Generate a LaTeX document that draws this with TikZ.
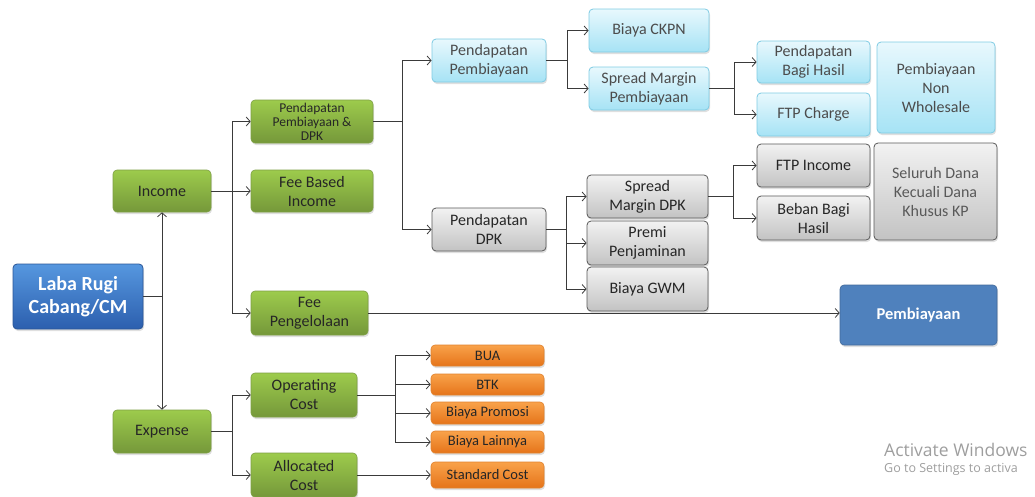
\documentclass[tikz,border=0pt]{standalone}
\usepackage{fontspec}
\setmainfont{Carlito}
\newfontfamily\wmfont{Open Sans}
\usetikzlibrary{arrows.meta,shadows}
\definecolor{gtop}{HTML}{9DCB4C}
\definecolor{gbot}{HTML}{75983A}
\definecolor{gbrd}{HTML}{7E9F45}
\definecolor{btop}{HTML}{E8F8FD}
\definecolor{bbot}{HTML}{A6E3F5}
\definecolor{bbrd}{HTML}{7FCBE3}
\definecolor{ytop}{HTML}{F2F2F2}
\definecolor{ybot}{HTML}{C3C3C3}
\definecolor{ybrd}{HTML}{595959}
\definecolor{otop}{HTML}{F9A24A}
\definecolor{obot}{HTML}{E5741A}
\definecolor{obrd}{HTML}{E0822E}
\definecolor{ltop}{HTML}{5697DF}
\definecolor{lbot}{HTML}{2C5FAE}
\definecolor{lbrd}{HTML}{2B5697}
\definecolor{pemb}{HTML}{4F81BD}
\definecolor{pbrd}{HTML}{41699A}
\definecolor{txt}{HTML}{262626}
\definecolor{ln}{HTML}{3A3A3A}
\tikzset{
  base/.style={rounded corners=4pt, align=center, inner sep=1pt, text=txt,
    font=\fontsize{16}{19}\selectfont,
    drop shadow={opacity=0.25, shadow xshift=1pt, shadow yshift=-2pt}},
  gbox/.style={base, top color=gtop, bottom color=gbot, draw=gbrd, line width=0.6pt},
  bbox/.style={base, top color=btop, bottom color=bbot, draw=bbrd, line width=0.8pt, text=black!70},
  ybox/.style={base, top color=ytop, bottom color=ybot, draw=ybrd, line width=0.8pt},
  obox/.style={base, top color=otop, bottom color=obot, draw=obrd, line width=0.6pt, font=\fontsize{14.5}{16}\selectfont},
  arr/.style={draw=ln, line width=0.8pt, -{Straight Barb[length=4pt,width=9pt]}},
  ln/.style={draw=ln, line width=0.8pt},
  wh/.style 2 args={minimum width=#1pt, minimum height=#2pt},
}
\begin{document}
\begin{tikzpicture}[x=1pt,y=-1pt]
\useasboundingbox (0,0) rectangle (1035,496);
% nodes
\node[base, top color=ltop, bottom color=lbot, draw=lbrd, line width=0.8pt, text=white,
  font=\bfseries\fontsize{20}{23}\selectfont, wh={130}{65}] (laba) at (78,296.5) {Laba Rugi\\Cabang/CM};
\node[gbox, wh={98}{42}] (income) at (162,191) {Income};
\node[gbox, wh={98}{43}] (expense) at (162,431.5) {Expense};
\node[gbox, wh={122}{43}, font=\fontsize{13.5}{14}\selectfont] (ppd) at (312,121.5) {Pendapatan\\Pembiayaan \&\\DPK};
\node[gbox, wh={122}{42}] (fbi) at (312,191) {Fee Based\\Income};
\node[gbox, wh={117}{44}] (feep) at (309.5,313) {Fee\\Pengelolaan};
\node[gbox, wh={106}{44}] (opc) at (304,395) {Operating\\Cost};
\node[gbox, wh={106}{44}] (alc) at (304,475) {Allocated\\Cost};
\node[bbox, wh={114}{43}] (pp) at (489,60.5) {Pendapatan\\Pembiayaan};
\node[ybox, wh={114}{43}] (pdpk) at (489,229.5) {Pendapatan\\DPK};
\node[bbox, wh={120}{43}] (ckpn) at (649,30.5) {Biaya CKPN};
\node[bbox, wh={120}{43}] (smp) at (649,88.5) {Spread Margin\\Pembiayaan};
\node[bbox, wh={113}{42}] (pbh) at (813.5,62) {Pendapatan\\Bagi Hasil};
\node[bbox, wh={113}{43}] (ftpc) at (813.5,114.5) {FTP Charge};
\node[bbox, wh={118}{91}] (pnw) at (936,87.5) {Pembiayaan\\Non\\Wholesale};
\node[ybox, wh={121}{43}] (smd) at (647.5,196.5) {Spread\\Margin DPK};
\node[ybox, wh={121}{44}] (premi) at (647.5,243) {Premi\\Penjaminan};
\node[ybox, wh={121}{44}] (gwm) at (647.5,289) {Biaya GWM};
\node[ybox, wh={113}{43}] (ftpi) at (813.5,165.5) {FTP Income};
\node[ybox, wh={113}{44}] (bbh) at (813.5,218) {Beban Bagi\\Hasil};
\node[ybox, wh={123}{97}, text=black!65] (sdk) at (935.5,191.5) {Seluruh Dana\\Kecuali Dana\\Khusus KP};
\node[base, fill=pemb, draw=pbrd, line width=0.6pt, text=white, drop shadow={opacity=0},
  font=\bfseries\fontsize{16.5}{18}\selectfont, wh={157}{60}] (pembn) at (918.5,315) {Pembiayaan};
\node[obox, wh={113}{21}] (bua) at (487.5,355.5) {BUA};
\node[obox, wh={113}{21}] (btk) at (487.5,384.5) {BTK};
\node[obox, wh={113}{22}] (bp) at (487.5,413) {Biaya Promosi};
\node[obox, wh={113}{22}] (bl) at (487.5,442) {Biaya Lainnya};
\node[obox, wh={113}{26}] (sc) at (487.5,475) {Standard Cost};
% junctions
\coordinate (j0) at (162,296.5);
\coordinate (j1) at (232,191);
\coordinate (j2) at (402,121.5);
\coordinate (j3) at (567,60.5);
\coordinate (j4) at (734,88.5);
\coordinate (j5) at (566,229.5);
\coordinate (j6) at (733,196.5);
\coordinate (j7) at (232,431.5);
\coordinate (j8) at (395,395);
% connectors
\draw[ln] (laba.east) -- (j0);
\draw[arr] (j0) -- (income.south);
\draw[arr] (j0) -- (expense.north);
\draw[ln] (income.east) -- (j1);
\draw[arr] (j1) |- (ppd.west);
\draw[arr] (j1) -- (fbi.west);
\draw[arr] (j1) |- (feep.west);
\draw[ln] (ppd.east) -- (j2);
\draw[arr] (j2) |- (pp.west);
\draw[arr] (j2) |- (pdpk.west);
\draw[ln] (pp.east) -- (j3);
\draw[arr] (j3) |- (ckpn.west);
\draw[arr] (j3) |- (smp.west);
\draw[ln] (smp.east) -- (j4);
\draw[arr] (j4) |- (pbh.west);
\draw[arr] (j4) |- (ftpc.west);
\draw[ln] (pdpk.east) -- (j5);
\draw[arr] (j5) |- (smd.west);
\draw[arr] (j5) |- (premi.west);
\draw[arr] (j5) |- (gwm.west);
\draw[ln] (smd.east) -- (j6);
\draw[arr] (j6) |- (ftpi.west);
\draw[arr] (j6) |- (bbh.west);
\draw[arr] (feep.east) -- (feep.east -| pembn.west);
\draw[ln] (expense.east) -- (j7);
\draw[arr] (j7) |- (opc.west);
\draw[arr] (j7) |- (alc.west);
\draw[ln] (opc.east) -- (j8);
\draw[arr] (j8) |- (bua.west);
\draw[arr] (j8) |- (btk.west);
\draw[arr] (j8) |- (bp.west);
\draw[arr] (j8) |- (bl.west);
\draw[arr] (alc.east) -- (alc.east -| sc.west);
% watermark
\node[anchor=west, inner sep=0pt, text=black!38, font=\wmfont\fontsize{17.5}{19}\selectfont] (wm1) at (884,450) {Activate Windows};
\node[anchor=west, inner sep=0pt, text=black!38, font=\wmfont\fontsize{12.5}{14}\selectfont] (wm2) at (884,469) {Go to Settings to activa};
\end{tikzpicture}
\end{document}
